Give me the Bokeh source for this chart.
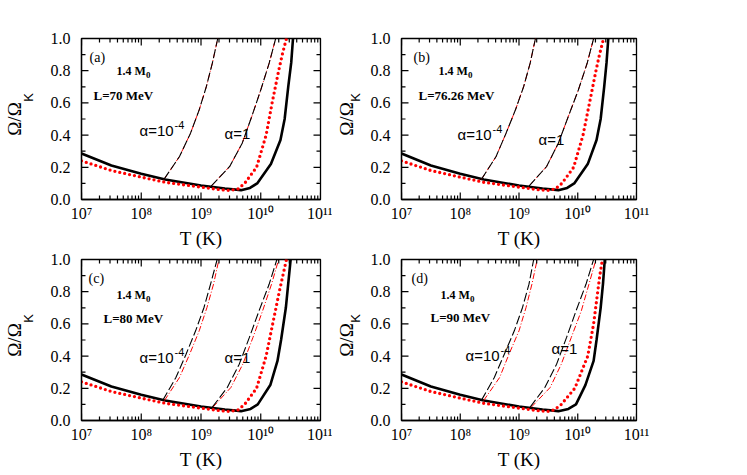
from bokeh.plotting import figure
from bokeh.models import (Range1d, FixedTicker, CustomJSTickFormatter,
                          PrintfTickFormatter, Label, LinearAxis)
from bokeh.layouts import gridplot
from bokeh.embed import file_html
from bokeh.resources import INLINE

# ---------------- data (log10 T, Omega/Omega_K) ----------------
X_DECADES = [7, 8, 9, 10, 11]
Y_TICKS = [0.0, 0.2, 0.4, 0.6, 0.8, 1.0]
Y_MINOR = [0.1, 0.3, 0.5, 0.7, 0.9]

PANEL_TAGS = ["(a)", "(b)", "(c)", "(d)"]
MASS_TEXT = "1.4 M"
MASS_SUB = "0"
L_LABELS = ["L=70 MeV", "L=76.26 MeV", "L=80 MeV", "L=90 MeV"]
ALPHA_LOW_TEXT = "α=10"
ALPHA_LOW_EXP = "-4"
ALPHA_HIGH_TEXT = "α=1"
X_TITLE = "T (K)"
Y_TITLE = "Ω/Ω"
Y_TITLE_SUB = "K"

# black solid curve: common falling branch, per-panel rising branch
SOLID_FALL_LOGT = [7.0, 7.5, 8.0, 8.4, 9.0, 9.4, 9.67]
SOLID_FALL_Y = [0.286, 0.211, 0.160, 0.124, 0.087, 0.068, 0.058]
SOLID_RISE_Y = [0.072, 0.10, 0.22, 0.37, 0.50, 0.70, 0.85, 1.0]
SOLID_RISE_LOGT_A = [9.82, 9.94, 10.17, 10.33, 10.40, 10.46, 10.51, 10.54]
SOLID_RISE_LOGT_B = [9.82, 9.94, 10.17, 10.32, 10.39, 10.45, 10.49, 10.52]
SOLID_RISE_LOGT_C = [9.83, 9.95, 10.16, 10.28, 10.34, 10.42, 10.46, 10.50]
SOLID_RISE_LOGT_D = [9.84, 9.97, 10.13, 10.27, 10.32, 10.39, 10.43, 10.46]

# red dotted curve
DOT_FALL_LOGT = [7.0, 7.5, 8.0, 8.4, 9.0, 9.3, 9.48]
DOT_FALL_Y = [0.240, 0.180, 0.139, 0.107, 0.077, 0.062, 0.056]
DOT_RISE_Y = [0.066, 0.10, 0.20, 0.40, 0.60, 0.80, 0.90, 1.0]
DOT_RISE_LOGT_A = [9.62, 9.73, 9.93, 10.09, 10.19, 10.30, 10.36, 10.43]
DOT_RISE_LOGT_B = [9.62, 9.73, 9.93, 10.09, 10.20, 10.31, 10.37, 10.44]
DOT_RISE_LOGT_C = [9.62, 9.73, 9.93, 10.09, 10.20, 10.31, 10.37, 10.43]
DOT_RISE_LOGT_D = [9.60, 9.72, 9.95, 10.17, 10.27, 10.34, 10.375, 10.42]

# alpha = 1e-4 branch (black dashed / red dash-dot)
Y_LOW = [0.125, 0.267, 0.412, 0.557, 0.702, 0.847, 1.0]
LOW_BLK_LOGT_A = [8.38, 8.64, 8.825, 8.97, 9.09, 9.19, 9.28]
LOW_RED_LOGT_A = [8.38, 8.64, 8.825, 8.97, 9.09, 9.19, 9.28]
LOW_BLK_LOGT_B = [8.36, 8.61, 8.78, 8.94, 9.08, 9.19, 9.28]
LOW_RED_LOGT_B = [8.36, 8.61, 8.78, 8.94, 9.08, 9.19, 9.28]
LOW_BLK_LOGT_C = [8.36, 8.58, 8.75, 8.91, 9.05, 9.16, 9.27]
LOW_RED_LOGT_C = [8.39, 8.64, 8.81, 8.97, 9.10, 9.21, 9.30]
LOW_BLK_LOGT_D = [8.36, 8.58, 8.75, 8.92, 9.06, 9.17, 9.25]
LOW_RED_LOGT_D = [8.40, 8.67, 8.83, 9.00, 9.12, 9.22, 9.31]

# alpha = 1 branch
Y_HIGH = [0.083, 0.205, 0.35, 0.516, 0.68, 0.846, 1.0]
HIGH_BLK_LOGT_A = [9.17, 9.48, 9.69, 9.85, 10.00, 10.14, 10.25]
HIGH_RED_LOGT_A = [9.17, 9.48, 9.69, 9.85, 10.00, 10.14, 10.25]
HIGH_BLK_LOGT_B = [9.17, 9.47, 9.67, 9.84, 10.01, 10.16, 10.27]
HIGH_RED_LOGT_B = [9.17, 9.47, 9.67, 9.84, 10.01, 10.16, 10.27]
HIGH_BLK_LOGT_C = [9.19, 9.44, 9.64, 9.81, 9.97, 10.14, 10.27]
HIGH_RED_LOGT_C = [9.20, 9.50, 9.70, 9.87, 10.03, 10.18, 10.30]
HIGH_BLK_LOGT_D = [9.19, 9.44, 9.64, 9.81, 9.97, 10.14, 10.27]
HIGH_RED_LOGT_D = [9.21, 9.53, 9.72, 9.89, 10.06, 10.19, 10.31]

PANELS = [
    dict(sr=SOLID_RISE_LOGT_A, dr=DOT_RISE_LOGT_A, lb=LOW_BLK_LOGT_A, lr=LOW_RED_LOGT_A,
         hb=HIGH_BLK_LOGT_A, hr=HIGH_RED_LOGT_A),
    dict(sr=SOLID_RISE_LOGT_B, dr=DOT_RISE_LOGT_B, lb=LOW_BLK_LOGT_B, lr=LOW_RED_LOGT_B,
         hb=HIGH_BLK_LOGT_B, hr=HIGH_RED_LOGT_B),
    dict(sr=SOLID_RISE_LOGT_C, dr=DOT_RISE_LOGT_C, lb=LOW_BLK_LOGT_C, lr=LOW_RED_LOGT_C,
         hb=HIGH_BLK_LOGT_C, hr=HIGH_RED_LOGT_C),
    dict(sr=SOLID_RISE_LOGT_D, dr=DOT_RISE_LOGT_D, lb=LOW_BLK_LOGT_D, lr=LOW_RED_LOGT_D,
         hb=HIGH_BLK_LOGT_D, hr=HIGH_RED_LOGT_D),
]

# ---------------- layout / styling (screen px relative to frame) ----------------
TEXT_POS = [
    dict(tag=(8, 142), mass=(35, 129), L=(12, 104), low=(58, 69), high=(143, 66)),
    dict(tag=(12, 142), mass=(37, 129), L=(17, 104), low=(56, 65), high=(137, 60)),
    dict(tag=(7, 142), mass=(35, 126), L=(22, 102), low=(58, 63), high=(143, 63)),
    dict(tag=(10, 142), mass=(39, 126), L=(29, 103), low=(64, 65), high=(150, 72)),
]
SERIF = "Liberation Serif"
SANS = "Liberation Sans"
MAJOR_LEN = 7
MINOR_LEN = 4
TICK_W = 1.2
NBSP = "\u00a0"

SUP_JS = """
const s = "\u2070\u00b9\u00b2\u00b3\u2074\u2075\u2076\u2077\u2078\u2079";
const e = Math.round(Math.log10(tick));
let out = "";
for (const c of String(e)) { out += s[parseInt(c)]; }
return "10" + out;
"""


def T(logs):
    return [10.0 ** v for v in logs]


def style_axis(ax):
    ax.major_tick_in = 0
    ax.major_tick_out = 0
    ax.minor_tick_in = 0
    ax.minor_tick_out = 0
    ax.axis_line_color = "black"
    ax.axis_line_width = 1.3
    ax.major_label_text_font = SERIF
    ax.major_label_text_font_size = "16px"
    ax.major_label_text_color = "black"


def add_text(p, x, y, text, size, font=SERIF, style="normal"):
    p.add_layout(Label(x=x, y=y, x_units="screen", y_units="screen", text=text,
                       text_font=font, text_font_size=f"{size}px",
                       text_font_style=style, text_color="black",
                       text_align="left", text_baseline="alphabetic"))


def add_inner_ticks(p):
    """Frame ticks as thin filled rects centred on the frame edge (outer half clipped)."""
    x_major = [10.0 ** k for k in X_DECADES]
    x_minor = [m * 10.0 ** k for k in X_DECADES[:-1] for m in range(2, 10)]
    x0, x1 = x_major[0], x_major[-1]
    for xs, ln in ((x_major, MAJOR_LEN), (x_minor, MINOR_LEN)):
        n = len(xs)
        for yedge in (0.0, 1.0):
            p.rect(x=xs, y=[yedge] * n, width=TICK_W, height=2 * ln,
                   width_units="screen", height_units="screen",
                   fill_color="black", line_color=None)
    for ys, ln in ((Y_TICKS, MAJOR_LEN), (Y_MINOR, MINOR_LEN)):
        n = len(ys)
        for xedge in (x0, x1):
            p.rect(x=[xedge] * n, y=ys, width=2 * ln, height=TICK_W,
                   width_units="screen", height_units="screen",
                   fill_color="black", line_color=None)


def make_panel(i, width, height, bl, br, bt, bb, k_so, t_so):
    p = figure(width=width, height=height, x_axis_type="log",
               x_range=Range1d(1e7, 1e11), y_range=Range1d(0, 1),
               output_backend="svg", toolbar_location=None,
               min_border_left=bl, min_border_right=br,
               min_border_top=bt, min_border_bottom=bb)
    p.grid.visible = False
    p.outline_line_color = "black"
    p.outline_line_width = 1.3
    p.background_fill_color = "white"
    p.border_fill_color = "white"

    xa = p.xaxis[0]
    xa.ticker = FixedTicker(ticks=[10.0 ** k for k in X_DECADES], minor_ticks=[])
    xa.formatter = CustomJSTickFormatter(code=SUP_JS)
    style_axis(xa)
    xa.major_label_standoff = 5
    xa.axis_label = X_TITLE
    xa.axis_label_text_font = SERIF
    xa.axis_label_text_font_size = "19px"
    xa.axis_label_text_font_style = "normal"
    xa.axis_label_text_color = "black"
    xa.axis_label_standoff = 3

    # inner left axis: tick labels + subscript "K" (shifted up by leading spaces)
    ya = p.yaxis[0]
    ya.ticker = FixedTicker(ticks=Y_TICKS, minor_ticks=[])
    ya.formatter = PrintfTickFormatter(format="%.1f")
    style_axis(ya)
    ya.major_label_standoff = 11
    ya.axis_label = NBSP * 12 + Y_TITLE_SUB
    ya.axis_label_text_font = SANS
    ya.axis_label_text_font_size = "13px"
    ya.axis_label_text_font_style = "normal"
    ya.axis_label_text_color = "black"
    ya.axis_label_standoff = k_so

    # outer left axis: only the "Omega/Omega" title
    ta = LinearAxis(ticker=FixedTicker(ticks=[], minor_ticks=[]),
                    axis_line_color=None, major_tick_in=0, major_tick_out=0,
                    minor_tick_in=0, minor_tick_out=0, major_label_standoff=0,
                    major_label_text_font_size="0px")
    ta.axis_label = Y_TITLE
    ta.axis_label_text_font = SERIF
    ta.axis_label_text_font_size = "19px"
    ta.axis_label_text_font_style = "normal"
    ta.axis_label_text_color = "black"
    ta.axis_label_standoff = t_so
    p.add_layout(ta, "left")

    d = PANELS[i]
    p.line(T(SOLID_FALL_LOGT + d["sr"]), SOLID_FALL_Y + SOLID_RISE_Y,
           line_color="black", line_width=2.6)
    p.line(T(DOT_FALL_LOGT + d["dr"]), DOT_FALL_Y + DOT_RISE_Y,
           line_color="red", line_width=3.3, line_dash="0 5", line_cap="round")
    p.line(T(d["lr"]), Y_LOW, line_color="red", line_width=1.0, line_dash="6 2 1 2")
    p.line(T(d["lb"]), Y_LOW, line_color="black", line_width=1.1, line_dash="9 3")
    p.line(T(d["hr"]), Y_HIGH, line_color="red", line_width=1.0, line_dash="6 2 1 2")
    p.line(T(d["hb"]), Y_HIGH, line_color="black", line_width=1.1, line_dash="9 3")

    add_inner_ticks(p)

    pos = TEXT_POS[i]
    add_text(p, *pos["tag"], PANEL_TAGS[i], 14)
    mx, my = pos["mass"]
    add_text(p, mx, my, MASS_TEXT, 12, style="bold")
    add_text(p, mx + 29.5, my - 4, MASS_SUB, 9, style="bold")
    add_text(p, *pos["L"], L_LABELS[i], 13, style="bold")
    lx, ly = pos["low"]
    add_text(p, lx, ly, ALPHA_LOW_TEXT, 15, font=SANS)
    add_text(p, lx + 35, ly + 6, ALPHA_LOW_EXP, 11, font=SANS)
    add_text(p, *pos["high"], ALPHA_HIGH_TEXT, 15, font=SANS)
    return p


pa = make_panel(0, 332, 251, 80, 12, 38, 52, 12, -7)
pb = make_panel(1, 346, 251, 64, 42, 38, 52, 5, -12)
pc = make_panel(2, 332, 221, 80, 12, 8, 52, 12, -7)
pd = make_panel(3, 346, 221, 64, 42, 8, 52, 5, -12)

grid = gridplot([[pa, pb], [pc, pd]], toolbar_location=None)

open("out.html", "w", encoding="utf-8").write(file_html(grid, INLINE))
